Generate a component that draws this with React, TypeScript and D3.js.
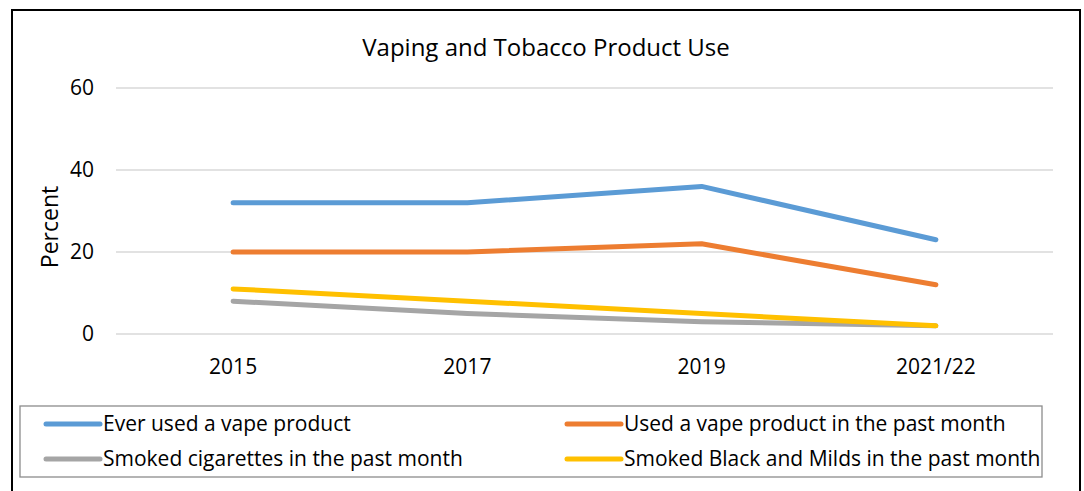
import React from "react";
import * as d3 from "d3";

const categories = ["2015", "2017", "2019", "2021/22"];
const everVape = [32, 32, 36, 23];
const pastMonthVape = [20, 20, 22, 12];
const cigarettes = [8, 5, 3, 2];
const blackMilds = [11, 8, 5, 2];
const yTicks = [0, 20, 40, 60];

const seriesNames = [
  "Ever used a vape product",
  "Used a vape product in the past month",
  "Smoked cigarettes in the past month",
  "Smoked Black and Milds in the past month",
];
const seriesColors = ["#5B9BD5", "#ED7D31", "#A5A5A5", "#FFC000"];

const W = 1084;
const H = 491;
const FONT = "'Open Sans', sans-serif";

export default function App() {
  const plotLeft = 116;
  const plotRight = 1053;
  const x = d3.scaleBand<string>().domain(categories).range([plotLeft, plotRight]);
  const y = d3.scaleLinear().domain([0, 60]).range([334, 88]);
  const seriesData = [everVape, pastMonthVape, cigarettes, blackMilds];
  const line = d3
    .line<number>()
    .x((_, i) => (x(categories[i]) as number) + x.bandwidth() / 2)
    .y((d) => y(d));

  const drawOrder = [0, 1, 2, 3];

  const legendItems = [
    { idx: 0, lx: 46, ly: 424 },
    { idx: 1, lx: 567, ly: 424 },
    { idx: 2, lx: 46, ly: 459 },
    { idx: 3, lx: 567, ly: 459 },
  ];

  return (
    <svg
      width={W}
      height={H}
      style={{ position: "absolute", left: 0, top: 0, background: "#fff" }}
      fontFamily={FONT}
    >
      <rect x={0} y={0} width={W} height={H} fill="#fff" />
      <rect x={12} y={10} width={1068} height={482} fill="none" stroke="#000" strokeWidth={2} />
      <text x={546} y={48} dy="0.35em" textAnchor="middle" fontSize={24} fill="#000">
        Vaping and Tobacco Product Use
      </text>
      {yTicks.map((t) => (
        <g key={t}>
          <line x1={plotLeft} x2={plotRight} y1={y(t)} y2={y(t)} stroke="#D9D9D9" strokeWidth={1.3} />
          <text x={94} y={y(t)} dy="0.35em" textAnchor="end" fontSize={21} fill="#000">
            {t}
          </text>
        </g>
      ))}
      <text
        transform={`translate(50,227) rotate(-90)`}
        textAnchor="middle"
        dy="0.35em"
        fontSize={23}
        fill="#000"
      >
        Percent
      </text>
      {categories.map((c) => (
        <text
          key={c}
          x={(x(c) as number) + x.bandwidth() / 2}
          y={367}
          dy="0.35em"
          textAnchor="middle"
          fontSize={21}
          fill="#000"
        >
          {c}
        </text>
      ))}
      {drawOrder.map((i) => (
        <path
          key={i}
          d={line(seriesData[i]) as string}
          fill="none"
          stroke={seriesColors[i]}
          strokeWidth={5}
          strokeLinecap="round"
          strokeLinejoin="round"
        />
      ))}
      <rect x={20} y={406} width={1022} height={71} fill="none" stroke="#8C8C8C" strokeWidth={1.3} />
      {legendItems.map((it) => (
        <g key={it.idx}>
          <line
            x1={it.lx}
            x2={it.lx + 54}
            y1={it.ly}
            y2={it.ly}
            stroke={seriesColors[it.idx]}
            strokeWidth={5}
            strokeLinecap="round"
          />
          <text x={it.lx + 57} y={it.ly} dy="0.35em" fontSize={21} fill="#000">
            {seriesNames[it.idx]}
          </text>
        </g>
      ))}
    </svg>
  );
}
